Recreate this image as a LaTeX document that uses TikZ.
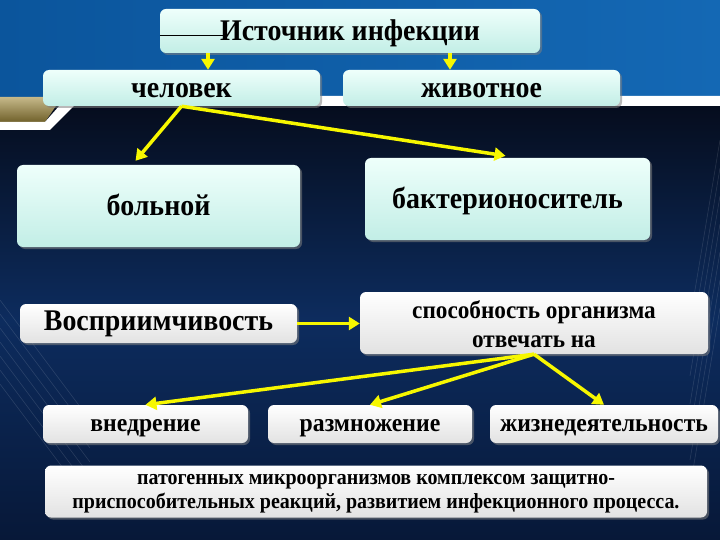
\documentclass[tikz,border=0pt]{standalone}
\usepackage{fontspec}
\setmainfont{Liberation Serif}[FakeStretch=0.93]
\usetikzlibrary{arrows.meta,calc,shadows}
\definecolor{bgblue}{HTML}{0B559C}
\definecolor{bgblue2}{HTML}{1468B4}
\definecolor{bgdark}{HTML}{050C1C}
\definecolor{bgmid}{HTML}{0D2C5E}
\definecolor{bglow}{HTML}{071838}
\definecolor{mintA}{HTML}{EEFFFB}
\definecolor{mintB}{HTML}{C2EEE6}
\definecolor{greyA}{HTML}{FFFFFF}
\definecolor{greyB}{HTML}{E2E2E2}
\definecolor{arrowyel}{HTML}{F7F700}
\definecolor{gold}{HTML}{A08A3C}
\newcommand{\fsz}[2]{\bfseries\fontsize{#1}{#2}\selectfont}

\begin{document}
\begin{tikzpicture}[x=1pt,y=-1pt,
  mintbox/.style={rounded corners=6pt, inner sep=0pt, align=center,
    top color=mintA, bottom color=mintB, font=\fsz{30}{32},
    text height=19pt, text depth=0pt,
    drop shadow={opacity=0.55, shadow xshift=2pt, shadow yshift=-2pt}},
  greybox/.style={rounded corners=6pt, inner sep=0pt, align=center,
    top color=greyA, bottom color=greyB, font=\fsz{25.5}{30},
    text height=14pt, text depth=0pt,
    drop shadow={opacity=0.55, shadow xshift=2pt, shadow yshift=-2pt}},
  arr/.style={draw=arrowyel, line width=3.5pt, -{Triangle[length=11pt,width=13pt]}}]
% background
\useasboundingbox (0,0) rectangle (720,540);
\shade[left color=bgblue, right color=bgblue2] (0,0) rectangle (720,100);
\shade[top color=bgdark, bottom color=bglow, middle color=bgmid] (0,100) rectangle (720,540);
\shade[top color=gold!60!white, bottom color=gold!70!black] (0,97) -- (62,97) -- (45,122) -- (0,122) -- cycle;
\fill[white] (0,122) -- (45,122) -- (68,96) -- (720,96) -- (720,106) -- (74,106) -- (50,130) -- (0,130) -- cycle;
\foreach \d in {0,14,...,84} {
  \draw[white, opacity=0.12, line width=0.6pt] (0,300+\d) -- (90,420+\d);
  \draw[white, opacity=0.12, line width=0.6pt] (720,140+2*\d) -- (690,320+2*\d);
}
% boxes
\node[mintbox, minimum width=380, minimum height=44] (title) at (350,31) {Источник инфекции};
\node[mintbox, minimum width=277, minimum height=36] (chel) at (181.5,88) {человек};
\node[mintbox, minimum width=277, minimum height=36] (zhiv) at (481.5,88) {животное};
\node[mintbox, minimum width=283, minimum height=82] (bol) at (158.5,206) {больной};
\node[mintbox, minimum width=285, minimum height=82] (bak) at (507.5,199) {бактерионоситель};
\node[greybox, minimum width=277, minimum height=39, font=\fsz{30}{32}] (vos) at (158.5,323.5) {Восприимчивость};
\node[greybox, minimum width=348, minimum height=62, font=\fsz{25}{29}, text height=48.5pt] (spos) at (534,323)
  {способность организма\\ отвечать на};
\node[greybox, minimum width=205, minimum height=38] (vnd) at (145.5,424) {внедрение};
\node[greybox, minimum width=204, minimum height=38] (razm) at (370,424) {размножение};
\node[greybox, minimum width=228, minimum height=38] (zhiz) at (604,424) {жизнедеятельность};
\node[greybox, minimum width=662, minimum height=52, font=\fsz{21.5}{24}, text height=33pt] (pat) at (376,491.5)
  {патогенных микроорганизмов комплексом защитно-\\ приспособительных реакций, развитием инфекционного процесса.};
% stray rule in the title
\draw[black, line width=0.8pt] ([yshift=-4pt]title.west) -- ++(64,0);
% arrows
\draw[arr] ([xshift=-142]title.south) -- ([xshift=-142]title.south |- chel.north);
\draw[arr] ([xshift=100]title.south) -- ([xshift=100]title.south |- zhiv.north);
\draw[arr] (chel.south) -- ($(bol.north)+(-23,-4)$);
\draw[arr] (chel.south) -- ($(bak.north)+(-2,-2)$);
\draw[arr] (vos.east) -- (spos.west |- vos.east);
\foreach \n in {vnd,razm,zhiz} \draw[arr] (spos.south) -- (\n.north);
\end{tikzpicture}
\end{document}
